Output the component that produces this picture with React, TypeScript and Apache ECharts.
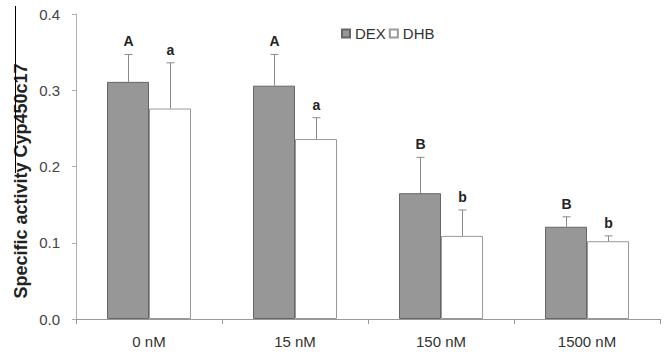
import React, { useEffect, useRef } from "react";
import * as echarts from "echarts";

const categories = ["0 nM", "15 nM", "150 nM", "1500 nM"];
const dexValues = [0.311, 0.306, 0.165, 0.121];
const dhbValues = [0.276, 0.236, 0.109, 0.102];
const dexErrors = [0.036, 0.041, 0.047, 0.013];
const dhbErrors = [0.060, 0.028, 0.034, 0.007];
const dexLetters = ["A", "A", "B", "B"];
const dhbLetters = ["a", "a", "b", "b"];
const yTicks = [0, 0.1, 0.2, 0.3, 0.4];

const FONT = "'Liberation Sans', Arial, sans-serif";
const BAR_W = 42;

function errorSeries(name: string, values: number[], errors: number[], letters: string[], offset: number) {
  return {
    type: "custom",
    name: name + "-err",
    silent: true,
    z: 5,
    data: values.map((v, i) => [i, v, v + errors[i]]),
    renderItem: (params: any, api: any) => {
      const i = api.value(0);
      const base = api.coord([i, api.value(1)]);
      const top = api.coord([i, api.value(2)]);
      const x = Math.round(base[0] + offset) + 0.5;
      const stroke = { stroke: "#8a8a8a", lineWidth: 1 };
      return {
        type: "group",
        children: [
          { type: "line", shape: { x1: x, y1: base[1], x2: x, y2: top[1] }, style: stroke },
          { type: "line", shape: { x1: x - 4, y1: top[1], x2: x + 4, y2: top[1] }, style: stroke },
          {
            type: "text",
            style: {
              text: letters[i],
              x: x,
              y: top[1] - 6,
              align: "center",
              verticalAlign: "bottom",
              font: "bold 14px " + FONT,
              fill: "#222",
            },
          },
        ],
      };
    },
  };
}

export default function App() {
  const ref = useRef<HTMLDivElement>(null);
  useEffect(() => {
    if (!ref.current) return;
    const chart = echarts.init(ref.current, undefined, { renderer: "svg" });
    chart.setOption({
      animation: false,
      backgroundColor: "#fff",
      grid: { left: 76, right: 7, top: 14, bottom: 38 },
      legend: {
        left: 336,
        top: 21,
        itemWidth: 8,
        itemHeight: 8,
        itemGap: 3,
        icon: "rect",
        data: ["DEX", "DHB"],
        textStyle: { fontFamily: FONT, fontSize: 15, color: "#333", padding: [0, 0, 0, 0] },
      },
      xAxis: {
        type: "category",
        data: categories,
        axisLine: { lineStyle: { color: "#999" } },
        axisTick: { show: true, length: 5, lineStyle: { color: "#999" } },
        axisLabel: { fontFamily: FONT, fontSize: 15, color: "#333", margin: 15 },
      },
      yAxis: {
        type: "value",
        min: yTicks[0],
        max: yTicks[yTicks.length - 1],
        interval: 0.1,
        splitLine: { show: false },
        axisLine: { show: true, lineStyle: { color: "#b0b0b0" } },
        axisTick: { show: true, length: 4, lineStyle: { color: "#b0b0b0" } },
        axisLabel: {
          fontFamily: FONT,
          fontSize: 15,
          color: "#444",
          margin: 16,
          formatter: (v: number) => v.toFixed(1),
        },
      },
      graphic: [
        {
          type: "text",
          x: 21,
          y: 181,
          rotation: Math.PI / 2,
          style: {
            text: "Specific activity Cyp450c17",
            font: "bold 18px " + FONT,
            fill: "#222",
            align: "center",
            verticalAlign: "middle",
          },
        },
        {
          type: "line",
          shape: { x1: 15.5, y1: 6, x2: 15.5, y2: 173 },
          style: { stroke: "#000", lineWidth: 1 },
        },
      ],
      series: [
        {
          name: "DEX",
          type: "bar",
          data: dexValues,
          barWidth: BAR_W,
          barGap: "0%",
          itemStyle: { color: "#979797", borderColor: "#666", borderWidth: 1 },
        },
        {
          name: "DHB",
          type: "bar",
          data: dhbValues,
          barWidth: BAR_W,
          barGap: "0%",
          itemStyle: { color: "#fff", borderColor: "#999", borderWidth: 1 },
        },
        errorSeries("DEX", dexValues, dexErrors, dexLetters, -BAR_W / 2),
        errorSeries("DHB", dhbValues, dhbErrors, dhbLetters, BAR_W / 2),
      ],
    });
    return () => chart.dispose();
  }, []);
  return <div ref={ref} style={{ position: "absolute", left: 0, top: 0, width: 667, height: 357 }} />;
}
